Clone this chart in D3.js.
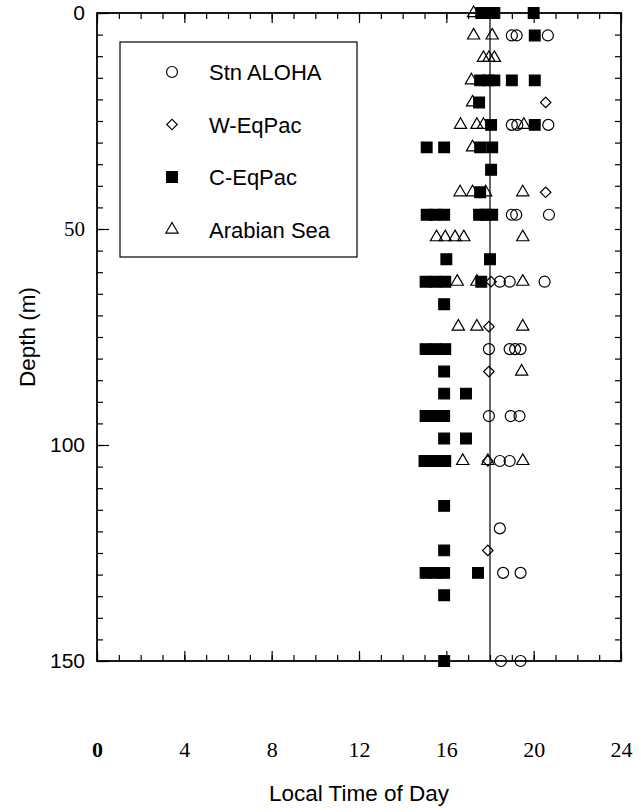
<!DOCTYPE html>
<html>
<head>
<meta charset="utf-8">
<script src="https://cdn.jsdelivr.net/npm/d3@7"></script>
<style>
  body { margin: 0; background: #fff; }
</style>
</head>
<body>
<div id="chart"></div>
<script>
// [local time (h), depth (m)]
var aloha = [
  [19.0, 5.2], [19.22, 5.2], [20.65, 5.2],
  [19.0, 25.9], [19.25, 25.9], [20.67, 25.9],
  [19.0, 46.7], [19.2, 46.7], [20.7, 46.7],
  [18.45, 62.2], [18.9, 62.2], [20.5, 62.2],
  [17.95, 77.8], [18.9, 77.8], [19.15, 77.8], [19.4, 77.8],
  [17.95, 93.3], [18.95, 93.3], [19.35, 93.3],
  [18.45, 103.7], [18.9, 103.7],
  [18.45, 119.3],
  [18.6, 129.6], [19.4, 129.6],
  [18.5, 150], [19.4, 150]
];
var weqpac = [
  [20.55, 20.7], [20.55, 41.5], [18.05, 62.2], [17.95, 72.6],
  [17.95, 83.0], [17.9, 103.7], [17.9, 124.4]
];
var ceqpac = [
  [17.6, 0], [17.9, 0], [18.2, 0], [20.0, 0],
  [20.05, 5.2],
  [17.55, 15.6], [17.9, 15.6], [18.2, 15.6], [19.0, 15.6], [20.05, 15.6],
  [17.5, 20.7],
  [18.05, 25.9], [20.05, 25.9],
  [15.1, 31.1], [15.9, 31.1], [17.55, 31.1], [18.1, 31.1],
  [18.05, 36.3],
  [17.55, 41.5],
  [15.1, 46.7], [15.5, 46.7], [15.9, 46.7], [17.5, 46.7], [17.8, 46.7], [18.1, 46.7],
  [16.0, 57.0], [18.0, 57.0],
  [15.05, 62.2], [15.5, 62.2], [15.95, 62.2], [17.6, 62.2],
  [15.9, 67.4],
  [15.05, 77.8], [15.5, 77.8], [15.95, 77.8],
  [15.9, 83.0],
  [15.9, 88.1], [16.9, 88.1],
  [15.05, 93.3], [15.5, 93.3], [15.9, 93.3],
  [15.9, 98.5], [16.9, 98.5],
  [15.0, 103.7], [15.5, 103.7], [15.95, 103.7],
  [15.9, 114.1],
  [15.9, 124.4],
  [15.05, 129.6], [15.5, 129.6], [15.9, 129.6], [17.45, 129.6],
  [15.9, 134.8],
  [15.9, 150]
];
var arabian = [
  [17.25, 0],
  [17.25, 5.2], [18.1, 5.2],
  [17.7, 10.4], [17.95, 10.4], [18.2, 10.4],
  [17.15, 15.6],
  [17.2, 20.7],
  [16.65, 25.9], [17.4, 25.9], [17.7, 25.9], [19.55, 25.9],
  [17.2, 31.1],
  [16.63, 41.5], [17.2, 41.5], [17.8, 41.5], [19.5, 41.5],
  [15.55, 51.9], [15.95, 51.9], [16.4, 51.9], [16.8, 51.9], [19.5, 51.9],
  [16.5, 62.2], [17.4, 62.2], [19.5, 62.2],
  [16.55, 72.6], [17.4, 72.6], [19.5, 72.6],
  [19.45, 83.0],
  [16.75, 103.7], [17.9, 103.7], [19.5, 103.7]
];
var refTime = 18;
var xTicks = [0, 4, 8, 12, 16, 20, 24];
var yTicks = [0, 50, 100, 150];
var legendNames = ["Stn ALOHA", "W-EqPac", "C-EqPac", "Arabian Sea"];

(function () {
  var width = 641, height = 812;

  var svg = d3.select("#chart")
    .append("svg")
    .attr("width", width)
    .attr("height", height)
    .style("font-family", "'Liberation Sans', Arial, sans-serif");

  var x = d3.scaleLinear().domain([0, 24]).range([97, 621]);
  var y = d3.scaleLinear().domain([0, 150]).range([13, 661]);

  // inward ticks on all four sides
  function ticks(axis, tx, ty) {
    var g = svg.append("g").attr("transform", "translate(" + tx + "," + ty + ")").call(axis);
    g.select(".domain").remove();
    g.selectAll("line").attr("stroke", "#000").attr("stroke-width", 1.2);
    return g;
  }
  var hours = d3.range(0, 25, 1), metres = d3.range(0, 151, 5);
  ticks(d3.axisTop(x).tickValues(hours).tickSize(6).tickFormat(""), 0, y(150));
  ticks(d3.axisTop(x).tickValues(xTicks).tickSize(10).tickFormat(""), 0, y(150));
  ticks(d3.axisBottom(x).tickValues(hours).tickSize(6).tickFormat(""), 0, y(0));
  ticks(d3.axisBottom(x).tickValues(xTicks).tickSize(10).tickFormat(""), 0, y(0));
  ticks(d3.axisRight(y).tickValues(metres).tickSize(6).tickFormat(""), x(0), 0);
  ticks(d3.axisRight(y).tickValues(yTicks).tickSize(12).tickFormat(""), x(0), 0);
  ticks(d3.axisLeft(y).tickValues(metres).tickSize(6).tickFormat(""), x(24), 0);

  svg.append("rect")
    .attr("x", x(0)).attr("y", y(0))
    .attr("width", x(24) - x(0)).attr("height", y(150) - y(0))
    .attr("fill", "none").attr("stroke", "#000").attr("stroke-width", 1.8);

  // tick labels
  var xl = svg.append("g").attr("transform", "translate(0," + y(150) + ")")
    .call(d3.axisBottom(x).tickValues(xTicks).tickSize(0).tickPadding(80));
  xl.select(".domain").remove();
  xl.selectAll("text")
    .attr("font-family", "'Liberation Serif', 'Times New Roman', serif")
    .attr("font-size", 22)
    .attr("fill", "#000")
    .attr("font-weight", function (d) { return d === 0 ? "bold" : "normal"; });

  var yl = svg.append("g").attr("transform", "translate(" + x(0) + ",0)")
    .call(d3.axisLeft(y).tickValues(yTicks).tickSize(0).tickPadding(12));
  yl.select(".domain").remove();
  yl.selectAll("text")
    .attr("font-family", function (d) {
      return d === 50 ? "'Liberation Serif', serif" : "'Liberation Sans', Arial, sans-serif";
    })
    .attr("font-size", 21)
    .attr("fill", "#000");

  // axis titles
  svg.append("text")
    .attr("x", (x(0) + x(24)) / 2).attr("y", 801)
    .attr("text-anchor", "middle").attr("font-size", 22.5)
    .text("Local Time of Day");
  svg.append("text")
    .attr("transform", "translate(35," + ((y(0) + y(150)) / 2) + ") rotate(-90)")
    .attr("text-anchor", "middle").attr("font-size", 22.5)
    .text("Depth (m)");

  // reference line
  svg.append("line")
    .attr("x1", x(refTime)).attr("x2", x(refTime))
    .attr("y1", y(0)).attr("y2", y(150))
    .attr("stroke", "#000").attr("stroke-width", 1.2);

  var shapes = [
    {data: aloha, type: d3.symbolCircle, size: 95, rot: 0, fill: "none"},
    {data: weqpac, type: d3.symbolSquare, size: 55, rot: 45, fill: "none"},
    {data: ceqpac, type: d3.symbolSquare, size: 115, rot: 0, fill: "#000"},
    {data: arabian, type: d3.symbolTriangle, size: 65, rot: 0, fill: "none"}
  ];
  var drawOrder = [0, 1, 3, 2];

  drawOrder.forEach(function (i) {
    var s = shapes[i];
    svg.append("g").selectAll("path")
      .data(s.data)
      .enter().append("path")
      .attr("d", d3.symbol().type(s.type).size(s.size))
      .attr("transform", function (d) {
        return "translate(" + x(d[0]) + "," + y(d[1]) + ") rotate(" + s.rot + ")";
      })
      .attr("fill", s.fill)
      .attr("stroke", "#000")
      .attr("stroke-width", 1.2);
  });

  // legend
  var lg = svg.append("g");
  lg.append("rect")
    .attr("x", 120).attr("y", 42).attr("width", 237).attr("height", 215)
    .attr("fill", "#fff").attr("stroke", "#000").attr("stroke-width", 1.2);
  legendNames.forEach(function (name, i) {
    var s = shapes[i], cy = 72 + i * 52.5;
    lg.append("path")
      .attr("d", d3.symbol().type(s.type).size(s.size))
      .attr("transform", "translate(172," + cy + ") rotate(" + s.rot + ")")
      .attr("fill", s.fill).attr("stroke", "#000").attr("stroke-width", 1.2);
    lg.append("text")
      .attr("x", 209).attr("y", cy + 8)
      .attr("font-size", 22)
      .text(name);
  });
})();
</script>
</body>
</html>
